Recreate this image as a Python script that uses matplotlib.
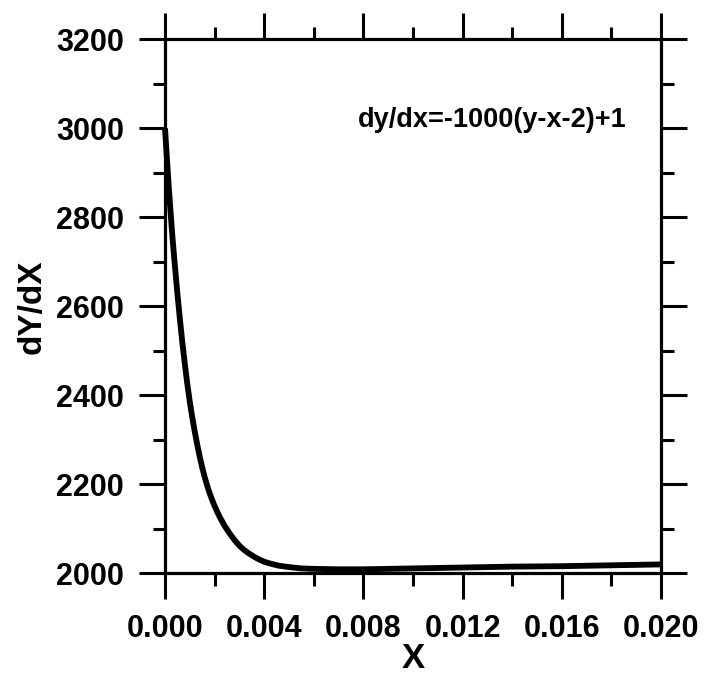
import matplotlib
matplotlib.use('Agg')
import matplotlib.pyplot as plt
from matplotlib.ticker import MultipleLocator

# values
x = [0.0, 0.00005, 0.0001, 0.00015, 0.0002, 0.0003, 0.0004, 0.0005, 0.0006,
     0.0007, 0.0008, 0.0009, 0.0010, 0.0011, 0.0012, 0.0013, 0.0014, 0.0015,
     0.0016, 0.0017, 0.0018, 0.0019, 0.0020, 0.0022, 0.0024, 0.0026, 0.0028,
     0.0030, 0.0032, 0.0034, 0.0036, 0.0038, 0.0040, 0.0043, 0.0046, 0.0050,
     0.0055, 0.0060, 0.0070, 0.0080, 0.0100, 0.0120, 0.0140, 0.0160, 0.0180,
     0.0200]
dydx = [3000, 2955, 2912, 2870, 2830, 2755, 2690, 2628, 2571,
        2518, 2470, 2425, 2385, 2350, 2318, 2289, 2262, 2238,
        2216, 2197, 2180, 2165, 2151, 2127, 2107, 2090, 2075,
        2062, 2052, 2044, 2037, 2031, 2026, 2021, 2017, 2014,
        2011, 2010, 2009, 2009, 2011, 2013, 2015, 2016, 2018,
        2020]

xticks = [0.000, 0.004, 0.008, 0.012, 0.016, 0.020]
xticklabels = ['0.000', '0.004', '0.008', '0.012', '0.016', '0.020']
yticks = [2000, 2200, 2400, 2600, 2800, 3000, 3200]

plt.rcParams['font.family'] = ['Liberation Sans', 'DejaVu Sans']
plt.rcParams['font.weight'] = 'bold'

fig = plt.figure(figsize=(7.04, 6.88), dpi=100)
ax = fig.add_axes([0.2344, 0.1667, 0.7045, 0.7762])

ax.plot(x, dydx, color='black', lw=4.2, solid_joinstyle='round',
        solid_capstyle='butt', clip_on=False)

ax.set_xlim(0, 0.020)
ax.set_ylim(2000, 3200)
ax.set_xticks(xticks)
ax.set_xticklabels(xticklabels)
ax.set_yticks(yticks)
ax.xaxis.set_minor_locator(MultipleLocator(0.002))
ax.yaxis.set_minor_locator(MultipleLocator(100))

for s in ax.spines.values():
    s.set_linewidth(2.3)

ax.tick_params(which='both', direction='out', top=True, right=True,
               width=2.2, colors='black')
ax.tick_params(which='major', length=18.5, pad=11, labelsize=22)
ax.tick_params(which='minor', length=9)

ax.set_xlabel('X', fontsize=25, fontweight='bold', labelpad=-2)
ax.set_ylabel('dY/dX', fontsize=24, fontweight='bold', labelpad=6)

ax.text(0.389, 0.836, 'dy/dx=-1000(y-x-2)+1', transform=ax.transAxes,
        fontsize=19.5, fontweight='bold', va='baseline', ha='left')

fig.savefig('out.png', dpi=100)
